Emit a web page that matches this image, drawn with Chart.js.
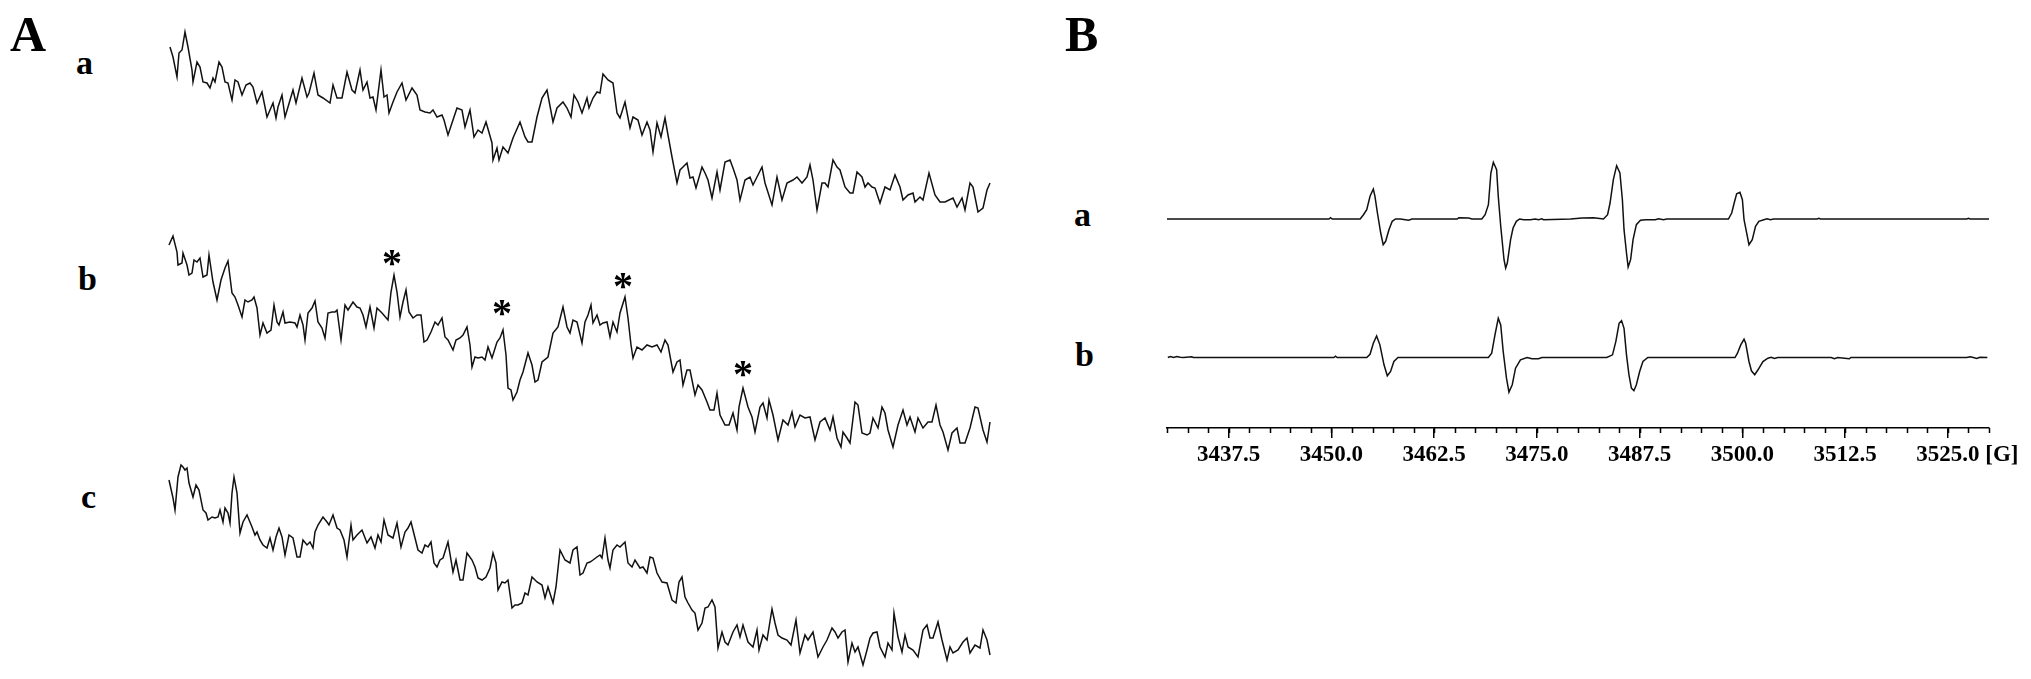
<!DOCTYPE html>
<html>
<head>
<meta charset="utf-8">
<script src="https://cdn.jsdelivr.net/npm/chart.js@4.4.1/dist/chart.umd.min.js"></script>
<style>
  html, body { margin: 0; padding: 0; background: #fff; }
  body { width: 2031px; height: 679px; position: relative; overflow: hidden; font-family: "Liberation Serif", "Times New Roman", serif; }
  canvas { position: absolute; }
  .lbl { position: absolute; font-weight: bold; line-height: 1; color: #000; }
</style>
</head>
<body>
<div class="lbl" style="left:10px;top:9px;font-size:50px">A</div>
<div class="lbl" style="left:76px;top:46px;font-size:34px">a</div>
<div class="lbl" style="left:78px;top:262px;font-size:34px">b</div>
<div class="lbl" style="left:81px;top:480px;font-size:34px">c</div>
<div class="lbl" style="left:1065px;top:9px;font-size:50px">B</div>
<div class="lbl" style="left:1074px;top:198px;font-size:34px">a</div>
<div class="lbl" style="left:1075px;top:338px;font-size:34px">b</div>

<canvas id="cAa" width="833" height="210" style="left:163px;top:15px"></canvas>
<canvas id="cAb" width="833" height="245" style="left:163px;top:220px"></canvas>
<canvas id="cAc" width="833" height="240" style="left:163px;top:445px"></canvas>
<canvas id="cBa" width="842" height="140" style="left:1157px;top:144px"></canvas>
<canvas id="cBb" width="876" height="178" style="left:1157px;top:295px"></canvas>

<script>
// Panel A: [point index, signal (a.u.)]
const spectrumAa = [[2,173],[5,163],[9,143],[11,167],[14,170],[17,188],[20,173],[24,150],[25,138],[29,158],[32,153],[35,138],[39,137],[42,132],[45,142],[47,138],[51,158],[54,153],[57,138],[60,137],[64,120],[67,140],[70,138],[74,125],[78,135],[82,137],[85,133],[89,117],[94,128],[99,103],[102,110],[105,117],[108,102],[110,113],[114,125],[117,103],[120,113],[125,130],[128,117],[134,142],[139,123],[141,127],[146,147],[150,125],[155,122],[162,117],[165,135],[169,122],[174,122],[179,148],[184,130],[187,127],[192,150],[195,130],[199,138],[202,122],[205,123],[208,110],[213,150],[216,123],[219,125],[221,107],[225,118],[229,128],[234,137],[238,120],[244,132],[249,125],[252,110],[257,108],[262,107],[265,110],[269,103],[274,105],[276,100],[280,85],[285,100],[289,112],[294,110],[297,93],[302,110],[306,83],[310,90],[314,87],[318,98],[324,77],[325,60],[329,72],[331,60],[335,73],[340,67],[345,82],[352,98],[357,83],[360,78],[364,78],[369,103],[374,122],[379,130],[385,98],[389,112],[395,118],[399,112],[403,103],[406,125],[410,118],[414,107],[419,122],[421,112],[425,122],[429,128],[432,127],[435,146],[440,140],[445,137],[449,107],[452,102],[457,118],[462,92],[465,103],[470,100],[474,85],[479,98],[482,90],[485,68],[489,97],[493,83],[497,102],[500,85],[504,63],[509,37],[512,50],[515,53],[519,57],[522,42],[525,43],[528,32],[534,53],[537,47],[540,40],[544,22],[549,48],[552,30],[557,58],[562,60],[565,52],[569,40],[572,20],[577,40],[582,43],[585,35],[589,43],[594,53],[597,37],[604,15],[609,43],[614,20],[619,37],[625,40],[629,43],[634,37],[639,43],[642,55],[645,40],[649,10],[654,37],[657,37],[660,33],[665,60],[669,53],[672,50],[677,33],[682,27],[685,27],[689,48],[694,43],[697,33],[700,37],[704,33],[707,32],[712,17],[717,33],[722,30],[727,45],[732,33],[735,20],[740,25],[745,27],[747,18],[752,23],[755,20],[761,47],[767,25],[772,18],[777,18],[785,22],[789,13],[794,22],[797,10],[802,37],[805,33],[810,8],[815,12],[819,30],[822,37]];

const spectrumAb = [[1,215],[5,224],[9,208],[10,195],[14,197],[15,207],[19,195],[21,185],[24,187],[26,200],[29,198],[32,202],[35,183],[39,185],[41,205],[45,178],[49,160],[53,180],[57,192],[60,199],[64,167],[67,163],[70,155],[74,143],[77,160],[80,158],[84,160],[86,163],[89,152],[92,125],[95,137],[99,127],[103,130],[106,155],[109,138],[111,135],[115,148],[117,137],[122,138],[127,137],[129,133],[132,145],[135,135],[137,120],[140,147],[144,152],[147,159],[150,138],[154,132],[157,122],[160,147],[164,148],[167,148],[169,150],[173,120],[177,155],[180,150],[185,158],[189,153],[192,152],[195,145],[198,133],[202,153],[206,132],[209,152],[214,147],[220,140],[223,168],[226,185],[229,168],[232,143],[235,158],[238,170],[241,148],[245,142],[249,145],[253,145],[256,118],[259,120],[263,128],[267,138],[270,135],[274,142],[277,123],[280,120],[285,110],[288,120],[292,122],[295,125],[299,133],[302,115],[304,93],[307,103],[310,102],[314,103],[317,100],[320,113],[324,102],[329,118],[332,122],[335,130],[338,105],[340,72],[343,70],[345,60],[349,68],[352,80],[355,88],[360,107],[364,95],[367,78],[370,80],[374,98],[380,103],[385,127],[390,133],[395,153],[399,133],[402,127],[405,140],[409,138],[414,117],[417,138],[420,145],[423,155],[425,137],[429,145],[432,135],[435,137],[439,138],[442,123],[445,138],[449,128],[452,147],[457,163],[460,142],[463,115],[465,102],[469,113],[474,110],[479,115],[484,113],[489,115],[493,108],[497,120],[500,115],[505,88],[509,98],[512,100],[515,75],[519,90],[522,90],[527,65],[530,75],[534,70],[539,58],[542,50],[546,50],[549,67],[552,45],[557,35],[561,35],[565,47],[569,30],[571,53],[575,72],[580,53],[584,43],[587,28],[592,53],[595,57],[599,42],[601,60],[605,45],[610,20],[615,40],[620,35],[624,48],[627,33],[632,45],[637,42],[642,43],[647,20],[652,38],[657,42],[662,30],[665,43],[669,22],[673,13],[675,28],[679,22],[682,17],[687,58],[690,55],[694,27],[699,25],[702,27],[705,42],[710,32],[714,53],[717,47],[720,30],[725,13],[730,35],[735,50],[739,35],[742,43],[747,28],[750,42],[755,32],[760,38],[764,38],[768,55],[772,35],[775,28],[780,10],[784,27],[789,32],[792,17],[797,17],[802,32],[807,53],[810,52],[815,30],[819,18],[822,38]];
const asterisksAb = [[224,203],[334,153],[455,180],[575,92]];

const spectrumAc = [[1,200],[5,182],[7,170],[10,203],[13,215],[15,213],[17,210],[19,212],[21,197],[25,183],[28,195],[31,190],[35,170],[38,167],[40,160],[44,163],[47,162],[50,163],[52,170],[55,158],[57,172],[60,167],[62,157],[64,187],[66,203],[69,187],[72,147],[75,158],[79,165],[84,153],[87,145],[89,148],[92,140],[95,135],[99,132],[102,142],[105,130],[108,143],[111,152],[114,143],[117,125],[121,145],[125,142],[129,123],[132,123],[135,140],[139,135],[142,138],[145,132],[147,148],[150,155],[155,163],[159,158],[161,155],[165,165],[169,152],[172,150],[176,140],[179,123],[183,155],[185,140],[189,145],[194,150],[199,137],[203,143],[207,132],[210,145],[213,138],[216,160],[220,145],[225,142],[229,157],[233,133],[237,148],[240,152],[243,158],[247,142],[250,130],[254,127],[257,135],[260,133],[263,138],[266,117],[269,113],[272,120],[275,122],[280,138],[285,108],[288,120],[292,100],[295,100],[299,127],[304,120],[307,113],[310,102],[314,100],[318,103],[322,112],[325,127],[328,117],[330,90],[334,98],[337,97],[340,100],[344,72],[347,75],[350,75],[354,77],[357,87],[360,85],[364,103],[369,98],[374,95],[377,82],[380,93],[385,77],[388,93],[392,130],[397,120],[402,117],[405,130],[409,133],[412,105],[415,107],[419,117],[422,118],[425,120],[429,123],[432,125],[434,122],[437,142],[440,120],[442,112],[445,130],[449,135],[452,133],[457,138],[460,117],[464,113],[467,120],[472,112],[475,113],[479,107],[482,123],[485,122],[489,107],[494,98],[499,97],[504,80],[508,77],[511,98],[514,103],[517,83],[520,77],[524,70],[527,67],[530,50],[534,57],[537,72],[540,73],[544,80],[547,73],[550,32],[554,48],[557,38],[560,35],[565,48],[569,55],[572,43],[575,55],[580,38],[585,33],[589,50],[591,30],[595,45],[599,40],[604,71],[607,57],[610,45],[614,42],[619,40],[623,35],[628,60],[632,27],[637,45],[640,40],[645,48],[650,23],[655,33],[659,40],[664,52],[667,48],[670,42],[674,48],[677,50],[680,18],[684,37],[687,28],[690,33],[695,15],[699,30],[702,42],[705,47],[709,48],[712,33],[717,23],[720,37],[724,30],[726,67],[730,43],[734,28],[737,45],[740,33],[745,30],[750,23],[755,50],[759,55],[762,42],[765,42],[770,58],[774,40],[779,20],[782,33],[785,27],[790,30],[795,38],[799,42],[802,27],[807,35],[812,32],[815,50],[819,40],[822,25]];

// Panel B: [field (G), signal (a.u.)]
const spectrumBa = [[3430.0,0],[3449.7,0],[3449.9,1.3],[3450.1,0],[3453.5,0],[3453.9,4.3],[3454.3,9.3],[3454.7,22.7],[3455.1,30],[3455.3,22.7],[3455.6,6],[3456.0,-14],[3456.3,-25.7],[3456.6,-22.3],[3457.0,-10.7],[3457.4,-2.3],[3457.8,0],[3458.4,0],[3459.0,-0.7],[3459.4,-1.3],[3459.8,0],[3465.3,0],[3465.5,1.3],[3466.7,1],[3467.1,0],[3468.3,0],[3468.7,4.3],[3469.1,14.3],[3469.4,46],[3469.7,56.7],[3470.1,49.3],[3470.3,22.7],[3470.6,-7.3],[3471.0,-40.7],[3471.2,-49],[3471.4,-44],[3471.8,-20.7],[3472.1,-9],[3472.5,-2.3],[3472.9,0],[3473.4,-0.7],[3474.2,-0.7],[3474.8,0],[3475.2,-0.7],[3475.6,0.3],[3475.8,-0.7],[3479.1,0],[3480.5,1],[3481.9,1.3],[3483.1,0],[3483.6,4.3],[3483.9,16],[3484.3,39.3],[3484.7,53.3],[3485.1,46],[3485.4,19.3],[3485.6,-10.7],[3485.9,-34],[3486.1,-48],[3486.4,-40.7],[3486.7,-20.7],[3487.1,-5.7],[3487.6,-1.3],[3488.2,-0.7],[3489.4,-0.7],[3489.8,0.3],[3490.4,-0.7],[3490.8,0],[3498.3,0],[3498.7,6],[3499.0,16],[3499.3,25.3],[3499.7,26.7],[3500.0,19.3],[3500.2,-0.7],[3500.6,-17.3],[3500.8,-25.7],[3501.2,-20.7],[3501.6,-7.3],[3502.0,-2.3],[3502.6,-0.7],[3503.0,0.3],[3503.4,-0.7],[3503.8,0],[3509.1,0],[3509.3,0.7],[3509.5,0],[3527.3,0],[3527.5,0.7],[3527.7,0],[3530.0,0]];

const spectrumBb = [[3430.1,0],[3430.4,1],[3430.8,0],[3431.2,1],[3431.6,0.3],[3432.0,0],[3433.0,0.7],[3433.2,0],[3450.3,0],[3450.5,1.3],[3450.7,0],[3454.3,0],[3454.7,3.3],[3455.1,14.3],[3455.5,21.7],[3455.9,12.7],[3456.4,-7.3],[3456.8,-18.3],[3457.2,-14],[3457.6,-4],[3458.1,0],[3469.1,0],[3469.5,4.3],[3469.9,22.7],[3470.3,39.3],[3470.6,32.7],[3470.9,6],[3471.3,-20.7],[3471.6,-34.7],[3472.0,-27.3],[3472.4,-10.7],[3473.0,-2.3],[3473.8,0],[3474.4,-1.3],[3475.2,-1.3],[3475.6,0],[3479.1,0],[3483.5,0],[3484.2,2.7],[3484.6,16],[3485.0,34.3],[3485.3,37],[3485.6,29.3],[3485.9,2.7],[3486.2,-17.3],[3486.5,-30.7],[3486.8,-33.3],[3487.1,-27.3],[3487.5,-14],[3487.9,-4],[3488.5,0],[3499.1,0],[3499.4,4.3],[3499.8,12.7],[3500.2,18.3],[3500.4,14.3],[3500.8,-4],[3501.1,-13.3],[3501.5,-17.3],[3501.9,-12.3],[3502.5,-4],[3503.1,-0.7],[3503.5,0.3],[3503.9,-1],[3504.3,0],[3510.8,0],[3511.2,-1.3],[3511.6,0],[3513.0,-1.3],[3513.2,0],[3527.3,0],[3527.7,0.7],[3528.1,0],[3528.5,-1],[3528.9,0.3],[3529.8,0]];

const fieldTicks = [3437.5, 3450.0, 3462.5, 3475.0, 3487.5, 3500.0, 3512.5, 3525.0];
const fieldMin = 3430, fieldMax = 3530, minorStep = 2.5;

const ink = '#111';
const serifBold = '"Liberation Serif", "Times New Roman", serif';

// draws "*" markers above peaks
const asteriskPlugin = {
    id: 'asterisks',
    afterDatasetsDraw(chart, args, opts) {
        if (!opts.points) return;
        const {ctx, scales} = chart;
        ctx.save();
        ctx.fillStyle = '#000';
        ctx.font = 'bold 40px ' + serifBold;
        ctx.textAlign = 'center';
        ctx.textBaseline = 'alphabetic';
        opts.points.forEach(p => {
            ctx.fillText('*', scales.x.getPixelForValue(p[0]), scales.y.getPixelForValue(p[1]) + 19);
        });
        ctx.restore();
    }
};

// short ticks every 2.5 G plus the "[G]" unit after the last label
const fieldAxisPlugin = {
    id: 'fieldAxis',
    afterDraw(chart, args, opts) {
        if (!opts.step) return;
        const {ctx} = chart;
        const sx = chart.scales.x;
        ctx.save();
        ctx.strokeStyle = '#000';
        ctx.lineWidth = 1.5;
        ctx.beginPath();
        for (let v = sx.min; v <= sx.max + 1e-6; v += opts.step) {
            const px = Math.round(sx.getPixelForValue(v)) + 0.5;
            ctx.moveTo(px, sx.top);
            ctx.lineTo(px, sx.top + 5);
        }
        ctx.stroke();
        ctx.font = 'bold 23px ' + serifBold;
        ctx.fillStyle = '#000';
        ctx.textBaseline = 'middle';
        ctx.textAlign = 'left';
        const last = fieldTicks[fieldTicks.length - 1];
        const lx = sx.getPixelForValue(last) + ctx.measureText(last.toFixed(1)).width / 2 + ctx.measureText(' ').width;
        ctx.fillText(opts.unit, lx, sx.top + 10 + 3 + 13.8);
        ctx.restore();
    }
};

function traceChart(id, points, xr, yr, pad, extra) {
    extra = extra || {};
    const xScale = Object.assign({
        type: 'linear', min: xr[0], max: xr[1], display: false
    }, extra.x || {});
    return new Chart(document.getElementById(id), {
        type: 'line',
        data: {
            datasets: [{
                data: points.map(p => ({x: p[0], y: p[1]})),
                borderColor: ink,
                borderWidth: 1.5,
                pointRadius: 0,
                tension: 0,
                fill: false
            }]
        },
        options: {
            responsive: false,
            animation: false,
            events: [],
            layout: {padding: pad},
            scales: {
                x: xScale,
                y: {type: 'linear', min: yr[0], max: yr[1], display: false}
            },
            plugins: Object.assign({
                legend: {display: false},
                tooltip: {enabled: false}
            }, extra.plugins || {})
        },
        plugins: [asteriskPlugin, fieldAxisPlugin]
    });
}

traceChart('cAa', spectrumAa, [0, 823], [0, 200], 5);
traceChart('cAb', spectrumAb, [0, 823], [0, 235], 5, {
    plugins: {asterisks: {points: asterisksAb}}
});
traceChart('cAc', spectrumAc, [0, 823], [0, 230], 5);

traceChart('cBa', spectrumBa, [fieldMin, fieldMax], [-60, 70], {left: 10, right: 10, top: 5, bottom: 5});
traceChart('cBb', spectrumBb, [fieldMin, fieldMax], [-70.7, 57.7], {left: 10, right: 44, top: 5, bottom: 0}, {
    x: {
        display: true,
        position: 'bottom',
        afterBuildTicks: s => { s.ticks = fieldTicks.map(v => ({value: v})); },
        afterFit: s => { s.height = 45; },
        border: {display: true, color: '#000', width: 1.5},
        grid: {display: true, drawOnChartArea: false, drawTicks: true, tickLength: 10, color: '#000', lineWidth: 1.5},
        ticks: {
            color: '#000',
            padding: 3,
            maxRotation: 0,
            autoSkip: false,
            font: {family: serifBold, size: 23, weight: 'bold'},
            callback: v => v.toFixed(1)
        }
    },
    plugins: {fieldAxis: {step: minorStep, unit: '[G]'}}
});
</script>
</body>
</html>
